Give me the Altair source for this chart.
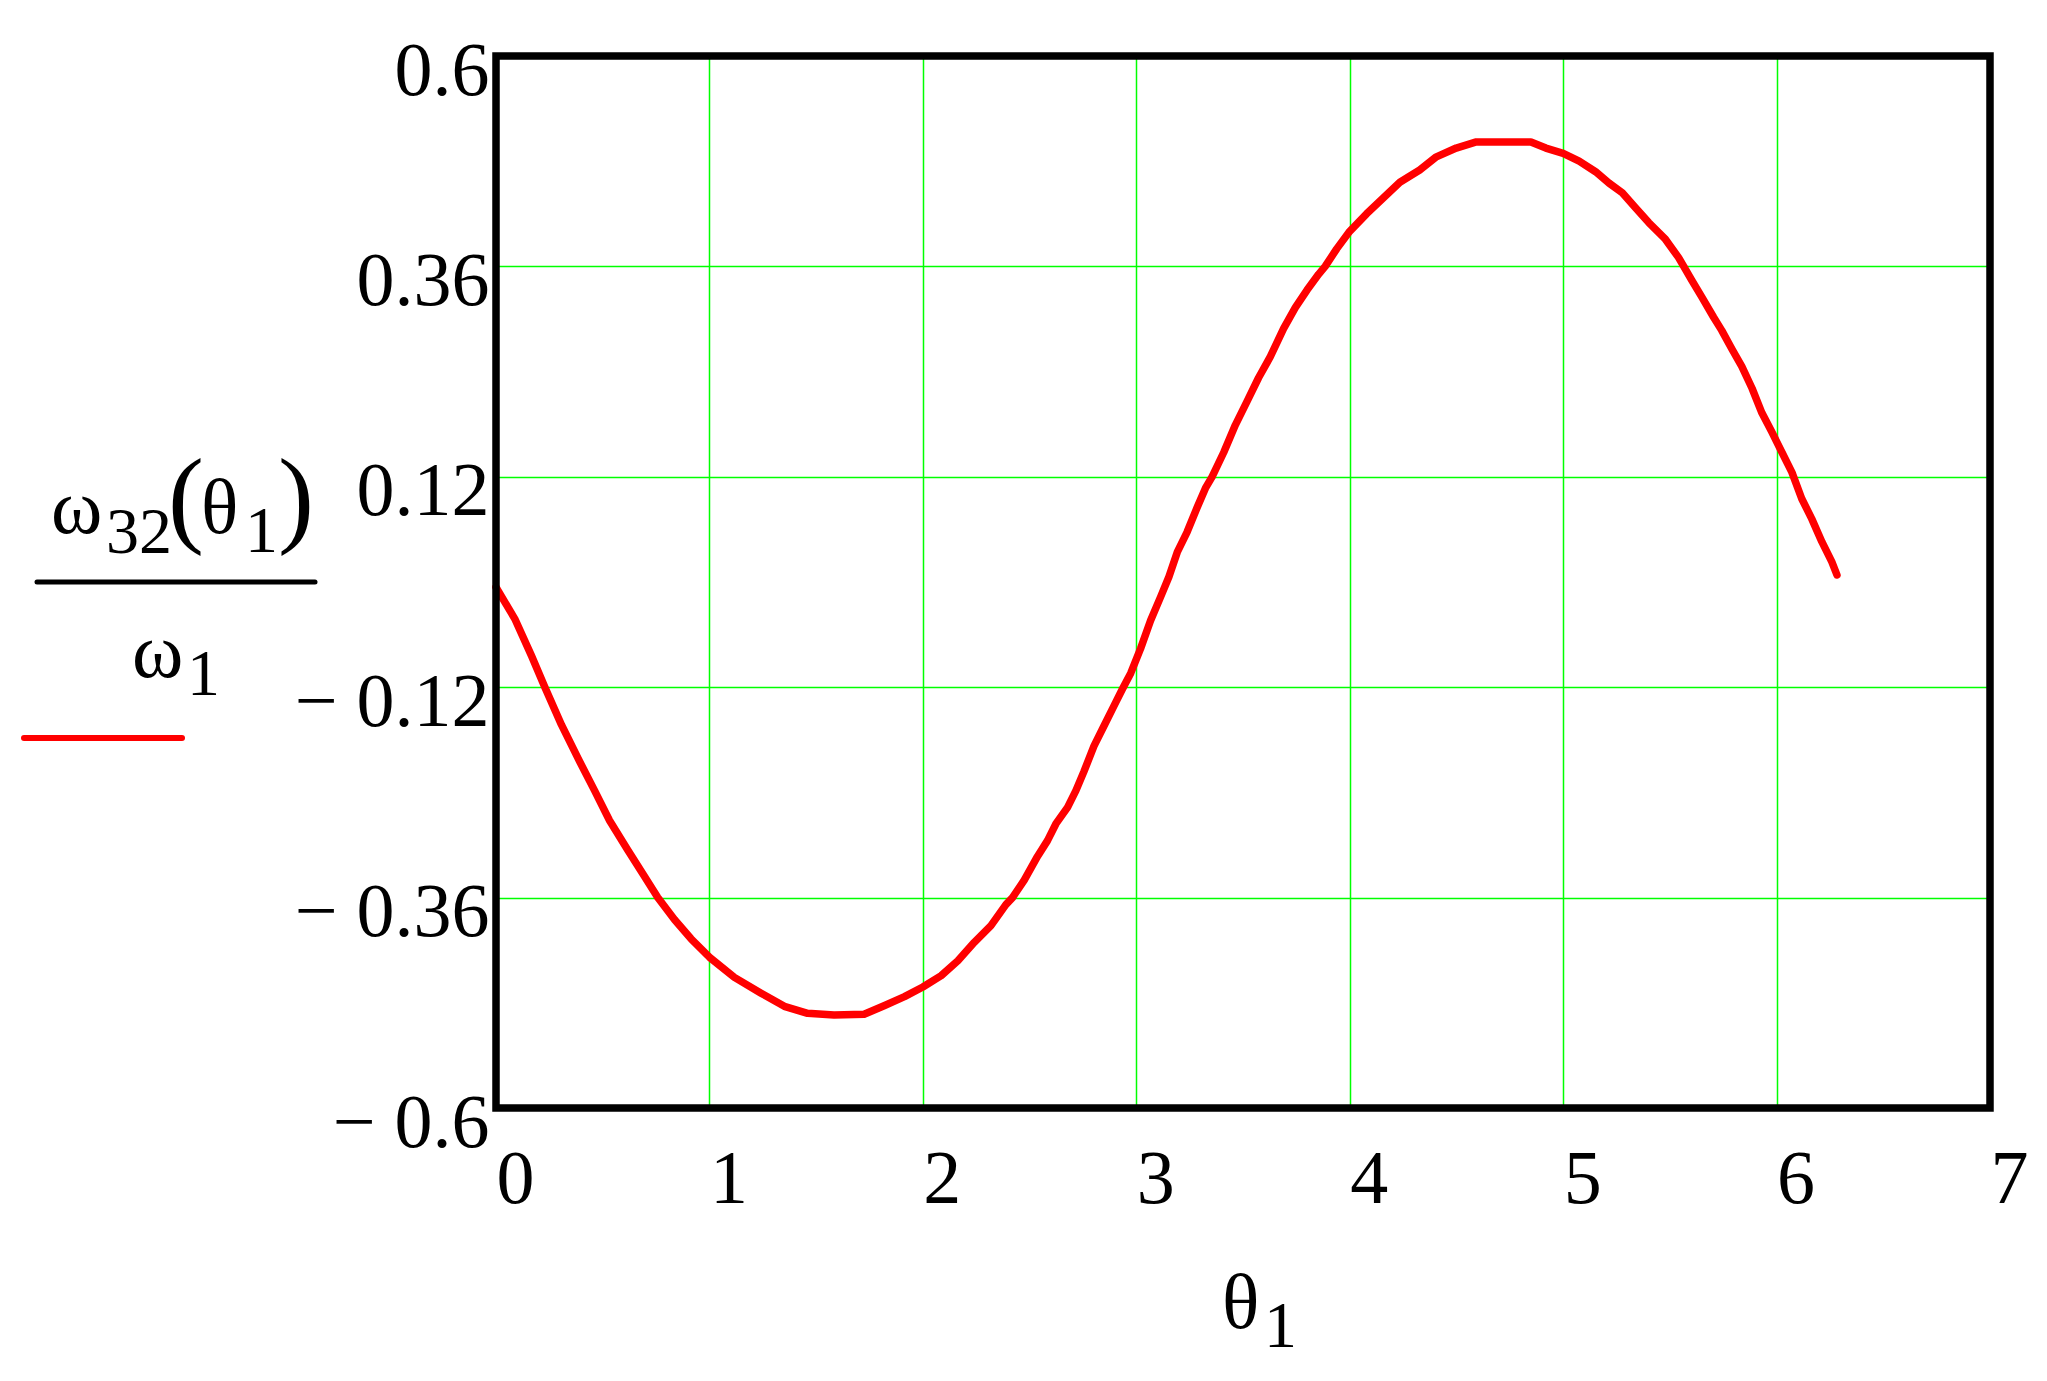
import altair as alt
import pandas as pd

# theta_1 values (rad) and omega32/omega1 values
theta = [0.0, 0.088, 0.166, 0.229, 0.307, 0.384, 0.462, 0.532, 0.618, 0.696,
         0.758, 0.836, 0.914, 1.0, 1.117, 1.242, 1.351, 1.46, 1.584, 1.725,
         1.821, 1.914, 2.0, 2.086, 2.164, 2.241, 2.319, 2.389, 2.42, 2.475,
         2.537, 2.584, 2.623, 2.678, 2.717, 2.755, 2.802, 2.849, 2.896, 2.935,
         2.974, 3.02, 3.067, 3.114, 3.153, 3.192, 3.238, 3.285, 3.324, 3.355,
         3.41, 3.464, 3.519, 3.573, 3.628, 3.69, 3.745, 3.8, 3.854, 3.885,
         3.939, 4.0, 4.079, 4.157, 4.235, 4.328, 4.406, 4.499, 4.593, 4.717,
         4.849, 4.919, 5.0, 5.075, 5.152, 5.215, 5.277, 5.339, 5.401, 5.479,
         5.541, 5.565, 5.603, 5.65, 5.705, 5.743, 5.79, 5.837, 5.885, 5.931,
         5.978, 6.025, 6.072, 6.118, 6.165, 6.212, 6.259, 6.283]
ratio = [-0.006, -0.042, -0.084, -0.12, -0.163, -0.201, -0.238, -0.272, -0.306, -0.336,
         -0.36, -0.385, -0.407, -0.428, -0.451, -0.469, -0.484, -0.492, -0.494, -0.493,
         -0.483, -0.473, -0.462, -0.449, -0.432, -0.411, -0.392, -0.368, -0.36, -0.34,
         -0.313, -0.295, -0.276, -0.257, -0.238, -0.216, -0.187, -0.164, -0.141, -0.122,
         -0.104, -0.076, -0.044, -0.017, 0.006, 0.034, 0.057, 0.085, 0.107, 0.12,
         0.148, 0.179, 0.206, 0.233, 0.257, 0.289, 0.313, 0.333, 0.351, 0.36,
         0.38, 0.40, 0.42, 0.438, 0.456, 0.47, 0.485, 0.495, 0.502, 0.502,
         0.502, 0.495, 0.489, 0.48, 0.468, 0.455, 0.444, 0.427, 0.41, 0.391,
         0.37, 0.36, 0.344, 0.325, 0.302, 0.287, 0.266, 0.246, 0.221, 0.193,
         0.171, 0.148, 0.125, 0.095, 0.072, 0.046, 0.023, 0.008]

x_ticks = [0, 1, 2, 3, 4, 5, 6, 7]
y_ticks = [-0.6, -0.36, -0.12, 0.12, 0.36, 0.6]

df = pd.DataFrame({"theta": theta, "ratio": ratio})
ann = pd.DataFrame({"k": [0]})

FONT = "Liberation Serif"
GRID = "#00ff00"
OX, OY = 496, 56  # plot origin on the page
W, H = 1494, 1052

common_axis = dict(
    title=None, grid=True, gridColor=GRID, gridWidth=1.5, domain=False,
    ticks=False, tickSize=0, labelFont=FONT, labelFontSize=76,
    labelColor="black", labelOverlap=False, labelLimit=0,
)

curve = alt.Chart(df).mark_line(
    color="#ff0000", strokeWidth=7.5, strokeJoin="round", strokeCap="round"
).encode(
    x=alt.X("theta:Q",
            scale=alt.Scale(domain=[0, 7], nice=False, zero=False),
            axis=alt.Axis(values=x_ticks, format="d", labelAlign="left",
                          labelBaseline="alphabetic", labelPadding=94,
                          labelFlush=False, **common_axis)),
    y=alt.Y("ratio:Q",
            scale=alt.Scale(domain=[-0.6, 0.6], nice=False, zero=False),
            axis=alt.Axis(values=y_ticks,
                          labelExpr="datum.value < 0 ? '\u2212 ' + format(-datum.value, '.2~f') : format(datum.value, '.2~f')",
                          labelAlign="right", labelBaseline="alphabetic",
                          labelOffset=38, labelPadding=7, **common_axis)),
)

# thick black frame drawn on top of the grid
frame = alt.Chart(ann).mark_rect(
    fillOpacity=0, stroke="black", strokeWidth=7.5
).encode(x=alt.value(0), x2=alt.value(W), y=alt.value(0), y2=alt.value(H))


def txt(s, px, py, size):
    return alt.Chart(ann).mark_text(
        text=s, font=FONT, fontSize=size, align="left",
        baseline="alphabetic", color="black"
    ).encode(x=alt.value(px - OX), y=alt.value(py - OY))


def hline(x1, x2, py, color, w):
    return alt.Chart(ann).mark_rule(
        color=color, strokeWidth=w, strokeCap="round"
    ).encode(x=alt.value(x1 - OX), x2=alt.value(x2 - OX), y=alt.value(py - OY))


layers = [
    curve,
    frame,
    # y-axis label: omega32(theta1) / omega1
    txt("ω", 51, 533, 78),
    txt("32", 106, 553, 66),
    txt("(", 168, 533, 108),
    txt("θ", 201, 533, 78),
    txt("1", 245, 552, 66),
    txt(")", 278, 533, 108),
    hline(37, 315, 582, "black", 5),
    txt("ω", 132, 677, 78),
    txt("1", 187, 695, 66),
    hline(24, 182, 738, "#ff0000", 6),
    # x-axis label: theta1
    txt("θ", 1222, 1328, 78),
    txt("1", 1264, 1347, 66),
]

chart = alt.layer(*layers).properties(
    width=W, height=H,
    autosize=alt.AutoSizeParams(type="none"),
    padding={"left": 488, "top": 48, "right": 45, "bottom": 262},
    background="white",
).configure_view(stroke=None)

chart.save("out.html", embed_options={"renderer": "svg", "actions": False})
